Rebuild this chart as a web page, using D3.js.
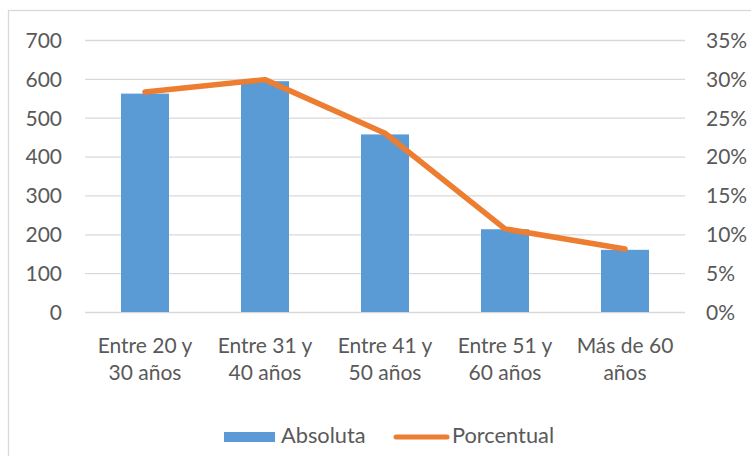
<!DOCTYPE html>
<html><head><meta charset="utf-8">
<script src="https://cdn.jsdelivr.net/npm/d3@7"></script>
<style>
body{margin:0;background:#fff;}
text{font-family:Lato, "Open Sans", sans-serif;fill:#595959;}
</style></head>
<body>
<svg id="c" width="751" height="456"></svg>
<script>
const categories = [["Entre 20 y","30 años"],["Entre 31 y","40 años"],["Entre 41 y","50 años"],["Entre 51 y","60 años"],["Más de 60","años"]];
const absoluta = [562, 594, 457, 213, 160];
const porcentual = [0.283, 0.299, 0.230, 0.107, 0.081];
const leftTicks = [0,100,200,300,400,500,600,700];
const rightTicks = [0,0.05,0.10,0.15,0.20,0.25,0.30,0.35];
const seriesNames = ["Absoluta","Porcentual"];

const svg = d3.select("#c");
const W=751,H=456;
const m={l:85,r:66,t:40,b:144};
const x = d3.scaleBand().domain(d3.range(categories.length)).range([m.l, W-m.r]).paddingInner(0.6).paddingOuter(0.3);
const y = d3.scaleLinear().domain([0,700]).range([H-m.b, m.t]);
const y2 = d3.scaleLinear().domain([0,0.35]).range([H-m.b, m.t]);
const fs = 21;

// border
svg.append("rect").attr("x",8.5).attr("y",10.5).attr("width",760).attr("height",460)
  .attr("fill","none").attr("stroke","#d9d9d9").attr("stroke-width",1.3);

// grid
const gAxisL = svg.append("g").attr("transform",`translate(${m.l},0)`)
  .call(d3.axisLeft(y).tickValues(leftTicks).tickSize(-(W-m.l-m.r)).tickPadding(23).tickFormat(d3.format("d")));
gAxisL.select(".domain").remove();
gAxisL.selectAll(".tick line").attr("stroke","#d9d9d9").attr("stroke-width",1.3);
gAxisL.selectAll(".tick text").attr("font-size",fs).attr("font-family","Lato").attr("fill","#595959").attr("dy","0.35em");

const gAxisR = svg.append("g").attr("transform",`translate(${W-m.r},0)`)
  .call(d3.axisRight(y2).tickValues(rightTicks).tickSize(0).tickPadding(21).tickFormat(d3.format(".0%")));
gAxisR.select(".domain").remove();
gAxisR.selectAll(".tick text").attr("font-size",fs).attr("font-family","Lato").attr("fill","#595959").attr("dy","0.35em");

// bars
svg.append("g").selectAll("rect").data(absoluta).join("rect")
  .attr("x",(d,i)=>x(i)).attr("width",x.bandwidth())
  .attr("y",d=>y(d)).attr("height",d=>y(0)-y(d)).attr("fill","#5b9bd5");

// line
const line = d3.line().x((d,i)=>x(i)+x.bandwidth()/2).y(d=>y2(d));
svg.append("path").datum(porcentual).attr("d",line).attr("fill","none")
  .attr("stroke","#ed7d31").attr("stroke-width",5.5).attr("stroke-linecap","round").attr("stroke-linejoin","round");

// x labels
const xl = svg.append("g").selectAll("text").data(categories).join("text")
  .attr("text-anchor","middle").attr("font-size",fs)
  .attr("transform",(d,i)=>`translate(${x(i)+x.bandwidth()/2},0)`);
xl.selectAll("tspan").data(d=>d).join("tspan").attr("x",0).attr("y",(d,j)=>353+j*27).text(d=>d);

// legend
const lg = svg.append("g");
lg.append("rect").attr("x",224).attr("y",432).attr("width",51).attr("height",10).attr("fill","#5b9bd5");
lg.append("text").attr("x",281).attr("y",443).attr("font-size",21.8).text(seriesNames[0]);
lg.append("line").attr("x1",396).attr("x2",447).attr("y1",437).attr("y2",437)
  .attr("stroke","#ed7d31").attr("stroke-width",5).attr("stroke-linecap","round");
lg.append("text").attr("x",452).attr("y",443).attr("font-size",21.8).text(seriesNames[1]);
</script>
</body></html>
